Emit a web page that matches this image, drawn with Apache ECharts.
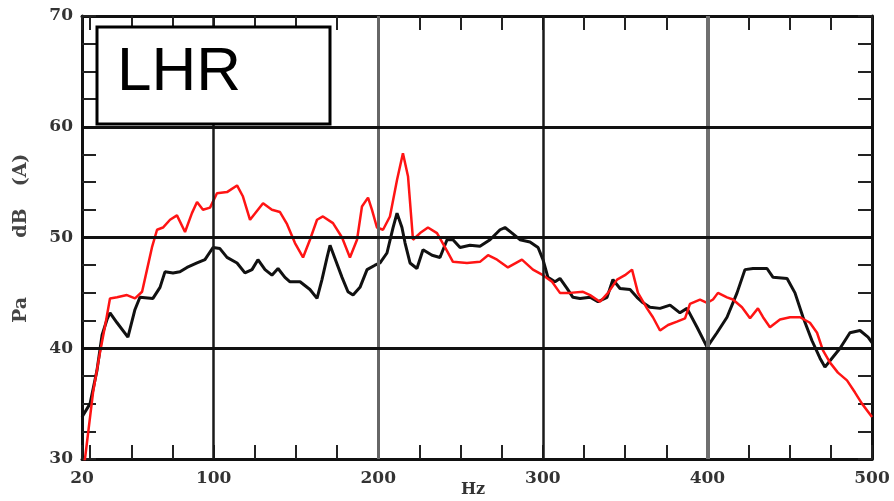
<!DOCTYPE html>
<html>
<head>
<meta charset="utf-8">
<script src="https://cdn.jsdelivr.net/npm/echarts@6/dist/echarts.min.js"></script>
<style>
html,body{margin:0;padding:0;background:#fff;}
#chart{width:894px;height:501px;}
</style>
</head>
<body>
<div id="chart"></div>
<script>
// Frequency (Hz) and level (dB(A))
const blackHz = [20,24.9,29.1,32.2,35.2,37.0,41.3,47.9,52.2,55.2,63.1,67.4,70.4,75.3,79.5,83.8,89.9,94.7,99.6,103.8,108.1,114.2,119.0,123.3,126.9,131.2,135.4,139.1,143.3,146.4,152.5,158.5,162.8,165.8,168.9,170.7,173.7,178.0,181.6,184.7,188.9,193.2,198.0,201.1,205.3,209.0,211.4,214.4,216.3,219.3,223.5,227.2,232.7,237.5,241.8,245.4,249.7,255.7,261.8,267.9,274.0,277.0,281.3,286.1,292.2,297.1,300.1,303.1,307.4,310.4,314.7,318.3,322.6,328.7,333.5,339.0,342.6,346.9,353.0,357.2,360.9,365.1,371.2,377.3,383.3,387.6,393.7,399.8,405.8,411.9,418.0,422.8,427.7,436.2,439.9,448.4,453.2,458.1,463.5,468.4,471.4,475.7,480.6,486.6,492.7,497.6,500];
const blackDb = [33.8,35.0,38.0,41.2,42.6,43.2,42.3,41.0,43.5,44.6,44.5,45.5,46.9,46.8,46.9,47.3,47.7,48.0,49.1,49.0,48.2,47.7,46.8,47.1,48.0,47.1,46.6,47.2,46.4,46.0,46.0,45.3,44.5,46.2,48.2,49.3,48.1,46.4,45.1,44.8,45.5,47.1,47.5,47.7,48.6,50.9,52.2,50.9,49.5,47.7,47.2,48.9,48.4,48.2,49.8,49.8,49.1,49.3,49.2,49.8,50.7,50.9,50.4,49.8,49.6,49.1,48.0,46.4,46.0,46.3,45.4,44.6,44.5,44.6,44.2,44.6,46.2,45.4,45.3,44.6,44.1,43.7,43.6,43.9,43.2,43.6,41.9,40.1,41.4,42.8,45.0,47.1,47.2,47.2,46.4,46.3,45.0,42.8,40.7,39.1,38.3,39.1,40.0,41.4,41.6,41.0,40.5];
const redHz = [20,21.8,26.7,30.9,34.0,37.0,41.3,47.3,52.2,56.5,59.5,62.5,65.6,69.2,73.5,77.7,82.6,86.8,89.9,93.5,97.8,102.0,108.1,114.2,117.8,122.1,130.0,135.4,140.3,144.6,149.4,154.3,158.5,162.8,166.4,172.5,178.0,182.8,187.1,190.1,193.8,196.2,199.2,202.9,207.1,211.4,215.0,218.1,221.1,225.4,230.2,235.7,240.6,245.4,253.9,261.8,266.7,272.2,278.8,287.3,294.0,300.1,305.6,310.4,316.5,324.4,328.7,334.7,339.6,345.1,349.9,354.2,357.8,363.3,366.9,371.2,376.1,381.5,386.4,389.4,395.5,399.8,403.4,406.4,411.9,415.5,421.0,425.9,430.7,433.8,438.0,444.1,450.2,456.3,462.3,466.6,470.2,474.5,479.3,484.8,489.7,493.9,500];
const redDb = [28.8,30.0,36.0,39.6,42.0,44.5,44.6,44.8,44.5,45.1,47.1,49.1,50.7,50.9,51.6,52.0,50.5,52.2,53.2,52.5,52.7,54.0,54.1,54.7,53.7,51.6,53.1,52.5,52.3,51.2,49.5,48.2,49.8,51.6,51.9,51.3,50.0,48.2,49.8,52.8,53.6,52.5,50.9,50.7,51.9,55.2,57.6,55.5,49.8,50.4,50.9,50.4,49.1,47.8,47.7,47.8,48.4,48.0,47.3,48.0,47.1,46.6,46.0,45.0,45.0,45.1,44.8,44.2,45.0,46.2,46.6,47.1,45.0,43.6,42.8,41.6,42.1,42.4,42.7,44.0,44.4,44.1,44.4,45.0,44.6,44.4,43.7,42.7,43.6,42.8,41.9,42.6,42.8,42.8,42.3,41.4,39.8,38.7,37.8,37.1,36.0,35.0,33.8];
const xMin = 20, xMax = 500;
const yMin = 30, yMax = 70, yStep = 10;
const vGrid = [100,200,300,400];
const hGrid = [40,50,60];
const legendText = 'LHR';
const xName = 'Hz';
const yNameParts = ['(A)', 'dB', 'Pa'];

// layout (pixels)
const L = 82, R = 22, T = 16, B = 42;
const tickLenPx = 14;

const chart = echarts.init(document.getElementById('chart'), null, {renderer:'canvas'});
const labelFont = {fontFamily:'DejaVu Serif', fontWeight:'bold', fontSize:17, color:'#333'};
const axisLineStyle = {color:'#111', width:3};
const tickStyle = {color:'#222', width:2};

function xAxisDef(pos, showLabel){
  return {
    type:'value', min:xMin, max:xMax, position:pos,
    axisLine:{show:true, onZero:false, lineStyle:axisLineStyle},
    axisTick:{show:true, inside:true, length:tickLenPx, lineStyle:tickStyle},
    minorTick:{show:true, splitNumber:4, length:tickLenPx, lineStyle:tickStyle},
    axisLabel:Object.assign({show:showLabel, margin:11}, labelFont),
    splitLine:{show:false}
  };
}
function yAxisDef(pos, showLabel){
  return {
    type:'value', min:yMin, max:yMax, interval:yStep, position:pos,
    axisLine:{show:true, onZero:false, lineStyle:axisLineStyle},
    axisTick:{show:true, inside:true, length:tickLenPx, lineStyle:tickStyle},
    minorTick:{show:true, splitNumber:4, length:tickLenPx, lineStyle:tickStyle},
    axisLabel:Object.assign({show:showLabel, margin:9}, labelFont),
    splitLine:{show:false}
  };
}

const gridLines = [];
const vStyles = {100:{color:'#1a1a1a',width:2.5},200:{color:'#666',width:3},300:{color:'#1a1a1a',width:2.5},400:{color:'#6f6f6f',width:4}};
vGrid.forEach(v => gridLines.push({xAxis:v, lineStyle:Object.assign({type:'solid'}, vStyles[v])}));
hGrid.forEach(v => gridLines.push({yAxis:v, lineStyle:{type:'solid', color:'#111', width:3}}));

chart.setOption({
  animation:false,
  backgroundColor:'#fff',
  grid:{left:L, right:R, top:T, bottom:B},
  xAxis:[xAxisDef('bottom', true), xAxisDef('top', false)],
  yAxis:[yAxisDef('left', true), yAxisDef('right', false)],
  series:[
    {type:'line', data:[], z:1, silent:true,
     markLine:{silent:true, symbol:'none', label:{show:false}, animation:false, data:gridLines}},
    {type:'line', z:3, showSymbol:false, symbol:'none',
     data:blackHz.map((h,i)=>[h, blackDb[i]]),
     lineStyle:{color:'#111', width:3}},
    {type:'line', z:4, showSymbol:false, symbol:'none',
     data:redHz.map((h,i)=>[h, redDb[i]]),
     lineStyle:{color:'#ff1414', width:2.5}}
  ],
  graphic:[
    {type:'rect', z:100, shape:{x:97, y:27, width:233, height:97},
     style:{fill:'#fff', stroke:'#000', lineWidth:3}},
    {type:'text', z:101, x:117, y:73,
     style:{text:legendText, font:'62px "Liberation Sans", Arial, sans-serif', fill:'#000', textVerticalAlign:'middle'}},
    {type:'text', z:101, x:473, y:490,
     style:{text:xName, font:'bold 16px "DejaVu Serif", serif', fill:'#333', textAlign:'center', textVerticalAlign:'middle'}},
    {type:'text', z:101, x:21, y:170, rotation:Math.PI/2,
     style:{text:yNameParts[0], font:'bold 19px "DejaVu Serif", serif', fill:'#444', textAlign:'center', textVerticalAlign:'middle'}},
    {type:'text', z:101, x:21, y:223, rotation:Math.PI/2,
     style:{text:yNameParts[1], font:'bold 19px "DejaVu Serif", serif', fill:'#444', textAlign:'center', textVerticalAlign:'middle'}},
    {type:'text', z:101, x:21, y:310, rotation:Math.PI/2,
     style:{text:yNameParts[2], font:'bold 19px "DejaVu Serif", serif', fill:'#444', textAlign:'center', textVerticalAlign:'middle'}}
  ]
});
</script>
</body>
</html>
